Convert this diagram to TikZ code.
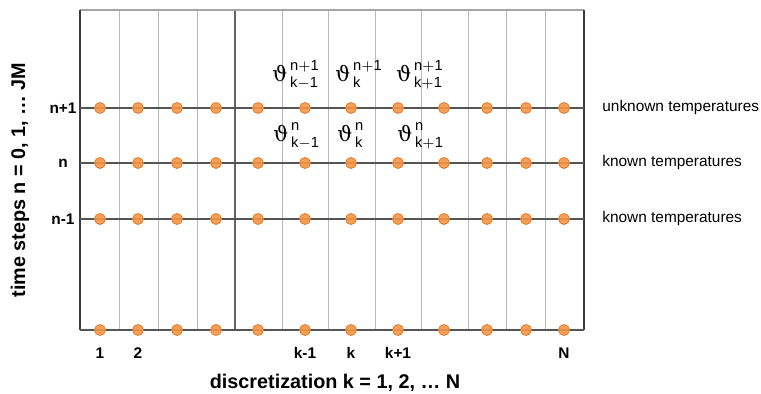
\documentclass[tikz,border=0pt]{standalone}
\usepackage{fontspec}
\setmainfont{Liberation Sans}
\newfontfamily\thetafont{DejaVu Serif}
\newcommand{\temp}[2]{$\mbox{\thetafont ϑ}^{\,#1}_{\,#2}$}
\definecolor{dotorange}{RGB}{243,150,70}
\definecolor{dotrim}{RGB}{228,122,42}
\definecolor{gridgray}{RGB}{185,185,185}
\definecolor{rowgray}{RGB}{85,85,85}
\definecolor{framegray}{RGB}{60,60,60}
\tikzset{
  dot/.style={circle,fill=dotorange,draw=dotrim,line width=0.4pt,
    fill opacity=0.9,minimum size=5.5pt,inner sep=0pt},
  gridline/.style={gridgray,line width=0.5pt},
  rowline/.style={rowgray,line width=0.6pt},
  steplabel/.style={font=\fontsize{7.7}{9}\selectfont\bfseries,inner sep=0pt},
  templabel/.style={font=\fontsize{7.7}{9}\selectfont,anchor=west,inner sep=0pt},
  thetalabel/.style={font=\fontsize{10.5}{12}\selectfont,anchor=base west,inner sep=0pt},
  axistitle/.style={font=\fontsize{9.9}{12}\selectfont\bfseries,inner sep=0pt}
}
\begin{document}
\begin{tikzpicture}[x=0.5pt,y=-0.5pt]
        \useasboundingbox (0,0) rectangle (761,394);
        % Frame corners
        \coordinate (tl) at (80,10);
        \coordinate (tr) at (584,10);
        \coordinate (bl) at (80,330);
        \coordinate (br) at (584,330);
        % Vertical grid
        \foreach \x in {119,158,197,282,328,375,421,468,506,545} {
            \draw[gridline] (\x,10) -- (\x,330);
        }
        \draw[framegray!80,line width=0.6pt] (235,10) -- (235,330);
        % Frame
        \draw[gray!70,line width=0.6pt] (tl) -- (tr);
        \draw[framegray,line width=0.6pt] (tl) -- (bl);
        \draw[framegray,line width=0.6pt] (tr) -- (br);
        % Time step rows
        \foreach \y/\r in {108/a,163/b,219/c,330/d} {
            \coordinate (l-\r) at (80,\y);
            \coordinate (r-\r) at (584,\y);
            \draw[rowline] (l-\r) -- (r-\r);
        }
        % Grid points
        \foreach \x [count=\i] in {100,138,177,216,258,305,351,398,444,487,526,564} {
            \foreach \y/\r in {108/a,163/b,219/c,330/d} {
                \node[dot] (\r\i) at (\x,\y) {};
            }
        }
        % Temperatures
        \node[thetalabel] (ta6) at (272,82) {\temp{\mathrm{n}+\mathrm{1}}{\mathrm{k}-\mathrm{1}}};
        \node[thetalabel] (ta7) at (335,82) {\temp{\mathrm{n}+\mathrm{1}}{\mathrm{k}}};
        \node[thetalabel] (ta8) at (396,82) {\temp{\mathrm{n}+\mathrm{1}}{\mathrm{k}+\mathrm{1}}};
        \node[thetalabel] (tb6) at (273,142) {\temp{\mathrm{n}}{\mathrm{k}-\mathrm{1}}};
        \node[thetalabel] (tb7) at (337,142) {\temp{\mathrm{n}}{\mathrm{k}}};
        \node[thetalabel] (tb8) at (397,142) {\temp{\mathrm{n}}{\mathrm{k}+\mathrm{1}}};
        % Time step labels
        \node[steplabel] (sa) at (63,108) {n+1};
        \node[steplabel] (sb) at (63,163) {n};
        \node[steplabel] (sc) at (63,219) {n-1};
        % Discretization labels
        \foreach \i/\t in {1/1,2/2,6/k-1,7/k,8/k+1,12/N} {
            \node[steplabel] (k\i) at ([yshift=-11.5pt]d\i) {\t};
        }
        % Row descriptions
        \node[templabel] (ua) at (602,108) {unknown temperatures};
        \node[templabel] (ub) at (602,163) {known temperatures};
        \node[templabel] (uc) at (602,219) {known temperatures};
        % Axis titles
        \node[axistitle] (xtitle) at (335,383) {discretization k = 1, 2, … N};
        \node[axistitle,rotate=90] (ytitle) at (20,180) {time steps n = 0, 1, … JM};
    \end{tikzpicture}
\end{document}
